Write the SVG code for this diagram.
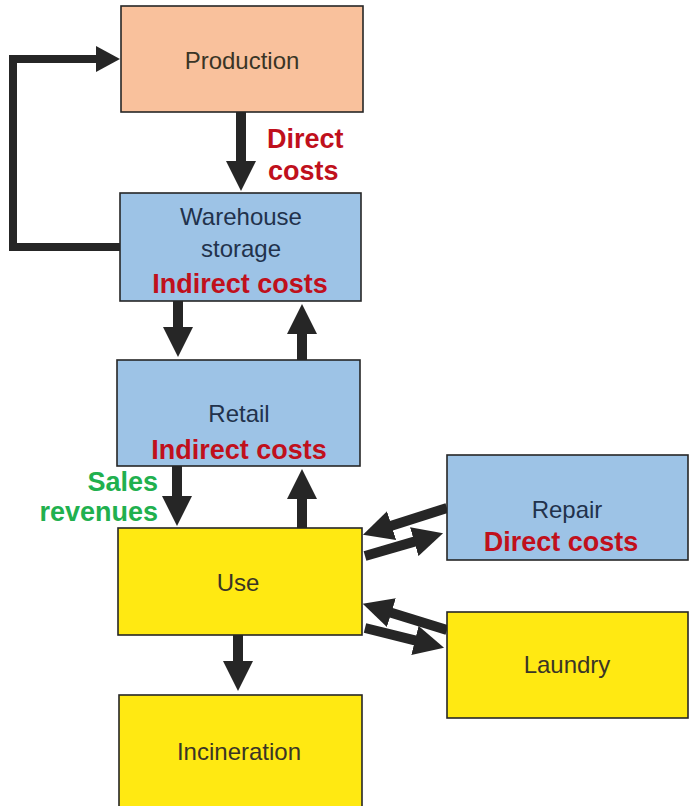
<svg xmlns="http://www.w3.org/2000/svg" width="693" height="806" viewBox="0 0 693 806">
<style>
.box{stroke:#262626;stroke-width:1.6}
.peach{fill:#f9c19c}
.blue{fill:#9dc3e6}
.yellow{fill:#ffe912}
.lbl{font-family:"Liberation Sans",Arial,sans-serif;font-size:24px;text-anchor:middle}
.dk{fill:#3a3526}
.nv{fill:#22324c}
.red{font-family:"Liberation Sans",Arial,sans-serif;font-weight:bold;font-size:27px;fill:#c0101c}
.grn{font-family:"Liberation Sans",Arial,sans-serif;font-weight:bold;font-size:27px;fill:#21b04e;text-anchor:end}
.arr{stroke:#262626;stroke-width:10;fill:none;marker-end:url(#ah)}
.loop{stroke:#262626;stroke-width:8;fill:none;stroke-linejoin:miter;marker-end:url(#ahs)}
</style>
<defs>
<marker id="ah" markerUnits="userSpaceOnUse" viewBox="0 -15 30 30" markerWidth="30" markerHeight="30" refX="1" refY="0" orient="auto">
<path d="M0,-15 L30,0 L0,15 Z" fill="#262626"/>
</marker>
<marker id="ahs" markerUnits="userSpaceOnUse" viewBox="0 -13 24 26" markerWidth="24" markerHeight="26" refX="1" refY="0" orient="auto">
<path d="M0,-13 L24,0 L0,13 Z" fill="#262626"/>
</marker>
</defs>
<rect width="693" height="806" fill="#ffffff"/>
<g id="connectors">
<path class="loop" d="M121,247 H13 V59 H97"/>
<line class="arr" x1="241" y1="112" x2="241" y2="162"/>
<line class="arr" x1="178" y1="301" x2="178" y2="328"/>
<line class="arr" x1="302" y1="360" x2="302" y2="333"/>
<line class="arr" x1="177" y1="466" x2="177" y2="497"/>
<line class="arr" x1="302" y1="528" x2="302" y2="498"/>
<line class="arr" x1="238" y1="634" x2="238" y2="662"/>
<line class="arr" x1="447" y1="508" x2="390.6" y2="525.9"/>
<line class="arr" x1="365" y1="556" x2="415.2" y2="541.4"/>
<line class="arr" x1="447" y1="630" x2="390.4" y2="612.4"/>
<line class="arr" x1="365" y1="628" x2="415.9" y2="640.7"/>
</g>
<g id="production">
<rect class="box peach" x="121" y="6" width="242" height="106"/>
<text class="lbl dk" x="242" y="69">Production</text>
</g>
<g id="direct-costs-label">
<text class="red" x="267" y="148" font-size="28">Direct</text>
<text class="red" x="268" y="180" font-size="28">costs</text>
</g>
<g id="warehouse">
<rect class="box blue" x="120" y="193" width="241" height="108"/>
<text class="lbl nv" x="241" y="225">Warehouse</text>
<text class="lbl nv" x="241" y="257">storage</text>
<text class="red" x="240" y="293" text-anchor="middle">Indirect costs</text>
</g>
<g id="retail">
<rect class="box blue" x="117" y="360" width="243" height="106"/>
<text class="lbl nv" x="239" y="422">Retail</text>
<text class="red" x="239" y="459" text-anchor="middle">Indirect costs</text>
</g>
<g id="sales-revenues-label">
<text class="grn" x="158" y="491">Sales</text>
<text class="grn" x="158" y="521">revenues</text>
</g>
<g id="use">
<rect class="box yellow" x="118" y="528" width="244" height="107"/>
<text class="lbl dk" x="238" y="591">Use</text>
</g>
<g id="repair">
<rect class="box blue" x="447" y="455" width="241" height="105"/>
<text class="lbl nv" x="567" y="518">Repair</text>
<text class="red" x="561" y="551" text-anchor="middle">Direct costs</text>
</g>
<g id="laundry">
<rect class="box yellow" x="447" y="612" width="241" height="106"/>
<text class="lbl dk" x="567" y="673">Laundry</text>
</g>
<g id="incineration">
<rect class="box yellow" x="119" y="695" width="243" height="115"/>
<text class="lbl dk" x="239" y="760">Incineration</text>
</g>
</svg>
